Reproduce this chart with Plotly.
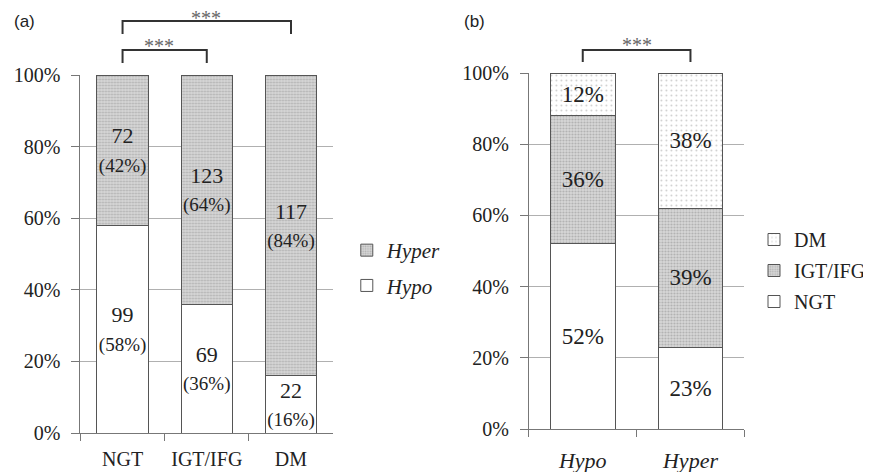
import plotly.graph_objects as go

# ---- data: panel (a) ----
groups_a = ["NGT", "IGT/IFG", "DM"]
hypo_counts = [99, 69, 22]
hyper_counts = [72, 123, 117]
hypo_pct = [58, 36, 16]
hyper_pct = [42, 64, 84]

# ---- data: panel (b) ----
groups_b = ["Hypo", "Hyper"]
ngt_pct = [52, 23]
igt_pct = [36, 39]
dm_pct = [12, 38]

y_ticks = [0, 0.2, 0.4, 0.6, 0.8, 1.0]

SERIF = "Liberation Serif"
TXT = "#222222"
EDGE = "#555555"
GRID = "#b0b0b0"
AXIS = "#777777"

dense = dict(shape=".", fgcolor="#8a8a8a", bgcolor="#d8d8d8", size=3, solidity=0.4)
sparse = dict(shape=".", fgcolor="#a0a0a0", bgcolor="#ffffff", size=5, solidity=0.12)

# page offset (body margin) and figure size
OFF = 8
W, H = 871 - OFF, 472 - OFF
def px(x):
    return (x - OFF) / W
def py(y):
    return 1 - (y - OFF) / H

fig = go.Figure()

lab_a_hypo = [f"{c}<br><span style='font-size:19px'>({p}%)</span>" for c, p in zip(hypo_counts, hypo_pct)]
lab_a_hyper = [f"{c}<br><span style='font-size:19px'>({p}%)</span>" for c, p in zip(hyper_counts, hyper_pct)]

fig.add_trace(go.Bar(
    x=groups_a, y=[p / 100 for p in hypo_pct], name="Hypo",
    xaxis="x", yaxis="y", width=0.61,
    marker=dict(color="white", line=dict(color=EDGE, width=1)),
    text=lab_a_hypo,
    textposition="inside", insidetextanchor="middle", textangle=0, constraintext="none",
    textfont=dict(family=SERIF, size=22, color=TXT),
    legend="legend", legendgroup="hypo", legendrank=2, hoverinfo="skip",
))
fig.add_trace(go.Bar(
    x=groups_a, y=[p / 100 for p in hyper_pct], name="Hyper",
    xaxis="x", yaxis="y", width=0.61,
    marker=dict(color="#d8d8d8", pattern=dense, line=dict(color=EDGE, width=1)),
    text=lab_a_hyper,
    textposition="inside", insidetextanchor="middle", textangle=0, constraintext="none",
    textfont=dict(family=SERIF, size=22, color=TXT),
    legend="legend", legendgroup="hyper", legendrank=1, hoverinfo="skip",
))

for name, vals, col, pat, rank in [
    ("NGT", ngt_pct, "white", None, 3),
    ("IGT/IFG", igt_pct, "#d8d8d8", dense, 2),
    ("DM", dm_pct, "white", sparse, 1),
]:
    mk = dict(color=col, line=dict(color=EDGE, width=1))
    if pat:
        mk["pattern"] = pat
    fig.add_trace(go.Bar(
        x=groups_b, y=[v / 100 for v in vals], name=name,
        xaxis="x2", yaxis="y2", width=0.6, marker=mk,
        text=[f"{v}%" for v in vals],
        textposition="inside", insidetextanchor="middle", textangle=0, constraintext="none",
        textfont=dict(family=SERIF, size=23, color=TXT),
        legend="legend2", legendgroup="b_" + name, legendrank=rank, hoverinfo="skip",
    ))

yax = dict(range=[0, 1], tickvals=y_ticks, tickformat=".0%", showgrid=True,
           gridcolor=GRID, gridwidth=1, showline=True, linecolor=AXIS, linewidth=1,
           ticks="outside", ticklen=8, tickcolor=AXIS, zeroline=False,
           tickfont=dict(family=SERIF, size=20, color=TXT), ticklabelstandoff=7,
           automargin=False, fixedrange=True)
xax = dict(showline=True, linecolor=AXIS, linewidth=1, ticks="outside", ticklen=7,
           tickcolor=AXIS, tickson="boundaries", showgrid=False,
           tickfont=dict(family=SERIF, size=20, color=TXT), ticklabelstandoff=8,
           automargin=False, fixedrange=True)

fig.update_layout(
    width=W, height=H, margin=dict(l=0, r=0, t=0, b=0),
    paper_bgcolor="white", plot_bgcolor="white", barmode="stack",
    xaxis=dict(xax, domain=[px(82), px(340)], anchor="y"),
    yaxis=dict(yax, domain=[py(433), py(75)], anchor="x"),
    xaxis2=dict(xax, domain=[px(540), px(760)], anchor="y2", ticklabelstandoff=12,
                tickfont=dict(family=SERIF, size=22, color=TXT, style="italic")),
    yaxis2=dict(yax, domain=[py(429), py(73)], anchor="x2"),
    legend=dict(x=px(354), y=py(230), xanchor="left", yanchor="top",
                font=dict(family=SERIF, size=21, color=TXT, style="italic"),
                traceorder="grouped", tracegroupgap=5, bgcolor="rgba(0,0,0,0)"),
    legend2=dict(x=px(770), y=py(220), xanchor="left", yanchor="top",
                 font=dict(family=SERIF, size=20, color=TXT),
                 traceorder="grouped", tracegroupgap=2, bgcolor="rgba(0,0,0,0)"),
    showlegend=True,
)

def bracket(xref, x0, x1, ytop, ybot, sx, sy):
    fig.add_shape(type="path", xref=xref, yref="paper",
                  path=f"M {x0},{py(ybot)} L {x0},{py(ytop)} L {x1},{py(ytop)} L {x1},{py(ybot)}",
                  line=dict(color="#333333", width=2))
    fig.add_annotation(xref="paper", yref="paper", x=px(sx), y=py(sy + 3),
                       xanchor="center", yanchor="middle", text="***",
                       showarrow=False, font=dict(family=SERIF, size=20, color="#666666"))

bracket("x", 0, 2, 21, 34, 210, 15)
bracket("x", 0, 1, 50, 63, 162, 43)
bracket("x2", 0, 1, 50, 62, 650, 42)

fig.add_annotation(xref="paper", yref="paper", x=px(12), y=py(22), xanchor="left",
                   yanchor="middle", text="(a)", showarrow=False,
                   font=dict(family="Liberation Sans", size=17, color=TXT))
fig.add_annotation(xref="paper", yref="paper", x=px(472), y=py(22), xanchor="left",
                   yanchor="middle", text="(b)", showarrow=False,
                   font=dict(family="Liberation Sans", size=17, color=TXT))

fig.write_html("out.html")
